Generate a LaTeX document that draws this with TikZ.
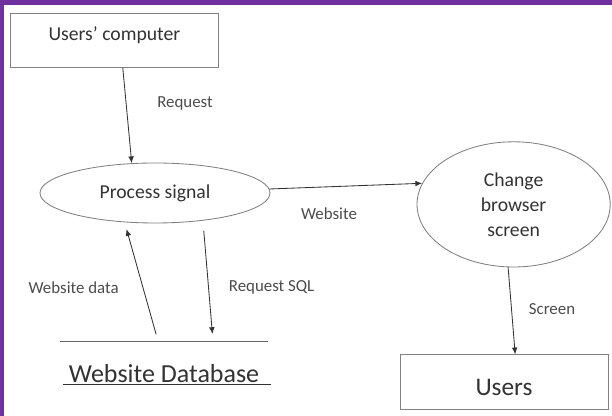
\documentclass[tikz,border=0pt]{standalone}
\usepackage{fontspec}
\setmainfont{Carlito}
\usepackage{tikz}
\usetikzlibrary{arrows.meta,shapes.geometric}
\definecolor{frameviolet}{HTML}{7030A0}

\begin{document}
\begin{tikzpicture}[
  entity/.style={draw=black!50, line width=0.6pt, minimum width=5.2cm, minimum height=1.36cm,
    inner sep=0pt, text=black!80},
  proc/.style={draw=black!50, line width=0.6pt, ellipse, inner sep=0pt, align=center, text=black!80,
    font=\fontsize{14}{17.8}\selectfont},
  store/.style={draw=black!60, line width=0.6pt},
  flow/.style={-{Latex[length=1.7mm,width=1.4mm]}, line width=0.6pt, draw=black!80},
  lbl/.style={font=\fontsize{12}{14}\selectfont, text=black!70, inner sep=0pt}
]
  % frame
  \fill[frameviolet] (0,0) rectangle (15.3,10.4);
  \fill[white] (0.1,0) rectangle (15.3,10.275);
  \useasboundingbox (0,0) rectangle (15.3,10.4);

  % external entities
  \node[entity, font=\fontsize{14}{17}\selectfont, text height=0.37cm, text depth=0.37cm] (comp) at (2.86,9.39) {Users' computer};
  \node[entity, font=\fontsize{18}{21}\selectfont, text height=0.7cm, text depth=0pt] (usr) at (12.6,0.85) {Users};

  % processes
  \node[proc, minimum width=5.75cm, minimum height=1.5cm] (sig) at (3.875,5.575) {Process signal};
  \node[proc, minimum width=4.83cm, minimum height=3.13cm] (chg) at (12.84,5.29) {Change\\browser\\screen};

  % data store
  \coordinate (dbL) at (1.5,1.875);
  \coordinate (dbR) at (6.7,1.875);
  \coordinate (dbA) at (3.95,1.875);
  \coordinate (dbB) at (5.325,1.875);
  \draw[store] (dbL) -- (dbR);
  \node[font=\fontsize{18.5}{21}\selectfont, text=black!80, anchor=base, inner sep=0pt] (dbname) at (4.175,0.84)
    {\underline{\hspace{0.15cm}Website Database\hspace{0.3cm}}};

  % flows
  \draw[flow] ([xshift=0.21cm]comp.south) -- (sig.128);
  \draw[flow] (sig.2) -- (chg.167);
  \draw[flow] (chg.265) -- ([xshift=0.28cm]usr.north);
  \draw[flow, shorten <=0.175cm, shorten >=0.175cm] (dbA) -- (sig.224);
  \draw[flow, shorten <=0.25cm, shorten >=0.175cm] (sig.330) -- (dbB);

  % flow labels
  \node[lbl] (lreq) at (4.625,7.825) {Request};
  \node[lbl] (lweb) at (8.225,5.05) {Website};
  \node[lbl] (lscr) at (13.8,2.675) {Screen};
  \node[lbl] (ldat) at (1.84,3.2) {Website data};
  \node[lbl] (lsql) at (6.79,3.225) {Request SQL};
\end{tikzpicture}
\end{document}
